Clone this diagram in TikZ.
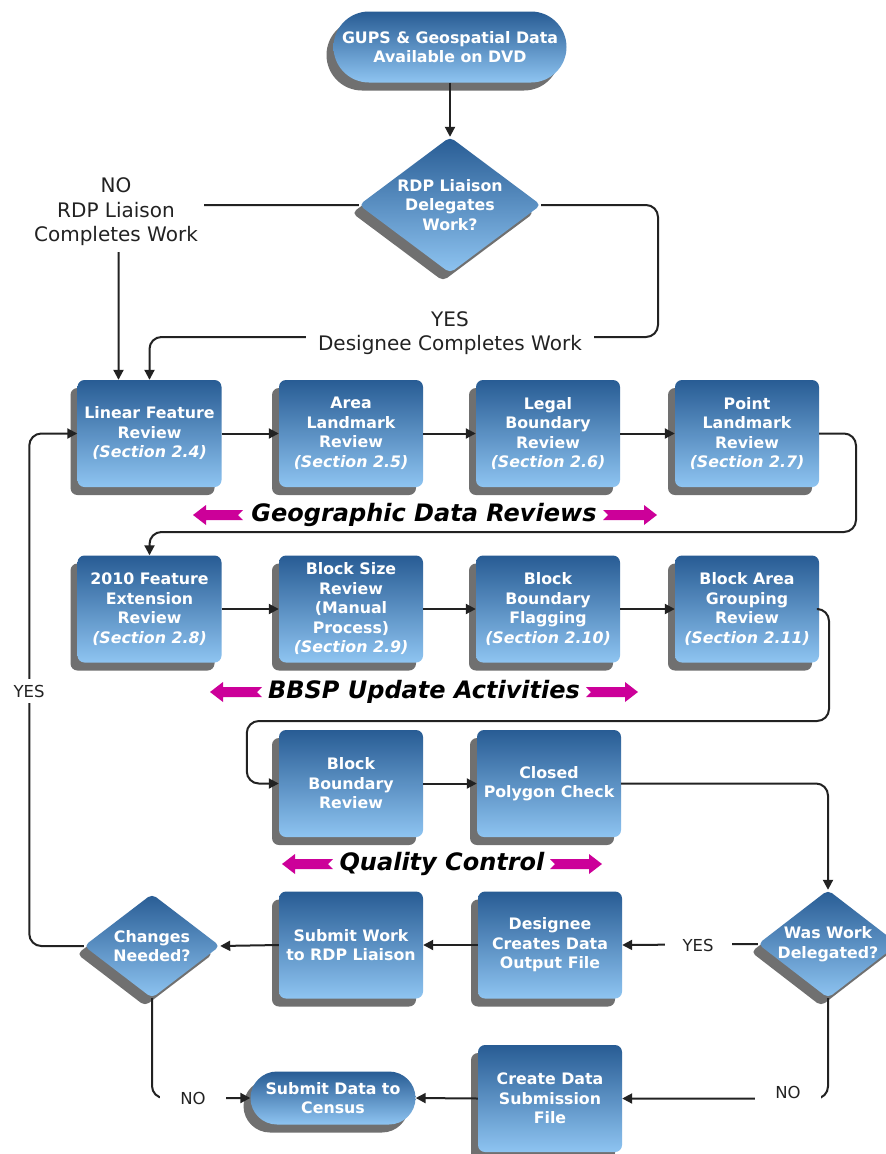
\documentclass[tikz,border=0pt]{standalone}
\usepackage{fontspec}
\setmainfont{DejaVu Sans}
\usetikzlibrary{shapes.geometric,shapes.misc,shadows,arrows.meta,calc}
\definecolor{boxtop}{RGB}{40,92,148}
\definecolor{boxbot}{RGB}{142,196,241}
\definecolor{shadowgray}{RGB}{112,112,112}
\definecolor{linec}{RGB}{34,34,34}
\definecolor{lblc}{RGB}{34,34,34}
\definecolor{pinkc}{RGB}{204,0,153}
\newcommand{\mysec}[1]{\textit{(Section #1)}}
\newcommand{\pinkleft}[3]{\fill[pinkc] (#1,#3) -- (#1+13,#3-10) -- (#1+13,#3-5) -- (#2,#3-5) -- (#2-5,#3) -- (#2,#3+5) -- (#1+13,#3+5) -- (#1+13,#3+10) -- cycle;}
\newcommand{\pinkright}[3]{\fill[pinkc] (#1,#3) -- (#1-13,#3-10) -- (#1-13,#3-5) -- (#2,#3-5) -- (#2+5,#3) -- (#2,#3+5) -- (#1-13,#3+5) -- (#1-13,#3+10) -- cycle;}
\begin{document}
\begin{tikzpicture}[x=1pt,y=-1pt,
  shd/.style={drop shadow={shadow xshift=-7pt,shadow yshift=-8pt,fill=shadowgray,opacity=1}},
  grad/.style={top color=boxtop,bottom color=boxbot,draw=none},
  boxfont/.style={font={\fontsize{15.8}{19.5}\selectfont\bfseries}},
  stepbox/.style={shd,grad,rectangle,rounded corners=7pt,minimum width=144pt,minimum height=107pt,inner sep=0pt,text=white,align=center,boxfont},
  term/.style={shd,grad,rounded rectangle,inner sep=0pt,text=white,align=center,boxfont},
  dec/.style={shd,grad,diamond,rounded corners=5pt,inner sep=0pt},
  dectext/.style={text=white,align=center,boxfont,inner sep=0pt},
  conn/.style={draw=linec,line width=2pt,rounded corners=12pt},
  arr/.style={conn,-{Triangle[length=10pt,width=10pt]}},
  biglbl/.style={text=lblc,font={\fontsize{20}{24.5}\selectfont},align=center,fill=white},
  smlbl/.style={text=lblc,font={\fontsize{16.5}{20}\selectfont},fill=white},
  grp/.style={text=black,font={\fontsize{24}{28}\selectfont\bfseries\itshape}}
]
\fill[white] (0,0) rectangle (886,1154);
\useasboundingbox (0,0) rectangle (886,1154);

% nodes
\node[term,minimum width=233pt,minimum height=71pt] (gups) at (450,47) {GUPS \& Geospatial Data\\Available on DVD};
\node[dec,minimum width=182pt,minimum height=136pt] (deleg) at (450,205) {};
\node[dectext] (delegt) at (deleg) {RDP Liaison\\Delegates\\Work?};

\node[stepbox] (lfr) at (149.5,433.5) {Linear Feature\\Review\\\mysec{2.4}};
\node[stepbox] (alr) at (351,433.5) {Area\\Landmark\\Review\\\mysec{2.5}};
\node[stepbox] (lbr) at (548,433.5) {Legal\\Boundary\\Review\\\mysec{2.6}};
\node[stepbox] (plr) at (747,433.5) {Point\\Landmark\\Review\\\mysec{2.7}};

\node[stepbox] (fer) at (149.5,609) {2010 Feature\\Extension\\Review\\\mysec{2.8}};
\node[stepbox] (bsr) at (351,609) {Block Size\\Review\\(Manual\\Process)\\\mysec{2.9}};
\node[stepbox] (bbf) at (548,609) {Block\\Boundary\\Flagging\\\mysec{2.10}};
\node[stepbox] (bag) at (747,609) {Block Area\\Grouping\\Review\\\mysec{2.11}};

\node[stepbox] (bbr) at (351,783.5) {Block\\Boundary\\Review};
\node[stepbox] (cpc) at (549,783.5) {Closed\\Polygon Check};

\node[dec,minimum width=136pt,minimum height=104pt] (chg) at (152,946) {};
\node[dectext] (chgt) at (chg) {Changes\\Needed?};
\node[stepbox] (swr) at (351,945) {Submit Work\\to RDP Liaison};
\node[stepbox] (dco) at (550,945) {Designee\\Creates Data\\Output File};
\node[dec,minimum width=140pt,minimum height=108pt] (wwd) at (828,944) {};
\node[dectext] (wwdt) at (wwd) {Was Work\\Delegated?};

\node[term,minimum width=165pt,minimum height=53pt] (sdc) at (333,1098) {Submit Data to\\Census};
\node[stepbox] (cds) at (550,1098.5) {Create Data\\Submission\\File};

% connectors
\draw[arr] (gups.south) -- (deleg.north);
\draw[arr] (deleg.west) -| ([xshift=-31pt]lfr.north);
\draw[arr] (deleg.east) -| (658,337) -| (lfr.north);
\draw[arr] (lfr.east) -- (alr.west);
\draw[arr] (alr.east) -- (lbr.west);
\draw[arr] (lbr.east) -- (plr.west);
\draw[arr] (plr.east) -| (856,532) -| (fer.north);
\draw[arr] (fer.east) -- (bsr.west);
\draw[arr] (bsr.east) -- (bbf.west);
\draw[arr] (bbf.east) -- (bag.west);
\draw[arr] (bag.east) -| (829,721) -| ([xshift=-32pt]bbr.west) -- (bbr.west);
\draw[arr] (bbr.east) -- (cpc.west);
\draw[arr] (cpc.east) -| (wwd.north);
\draw[arr] (wwd.west) -- (dco.east);
\draw[arr] (dco.west) -- (swr.east);
\draw[arr] (swr.west) -- (chg.east);
\draw[arr] (chg.west) -| ([xshift=-48pt]lfr.west) -- (lfr.west);
\draw[arr] (chg.south) |- (sdc.west);
\draw[arr] (wwd.south) |- (cds.east);
\draw[arr] (cds.west) -- (sdc.east);

% connector labels
\node[biglbl,inner xsep=6pt,inner ysep=6pt] (nolbl) at (116,212) {NO\\RDP Liaison\\Completes Work};
\node[biglbl,inner xsep=12pt,inner ysep=2pt] (yeslbl) at (450,333) {YES\\Designee Completes Work};
\node[smlbl,inner xsep=3pt,inner ysep=6pt] (yesleft) at (29,691) {YES};
\node[smlbl,minimum width=67pt,inner ysep=3pt] (yesmid) at (698,945) {YES};
\node[smlbl,minimum width=66pt,inner ysep=3pt] (noleft) at (193,1098) {NO};
\node[smlbl,minimum width=66pt,inner ysep=3pt] (noright) at (788,1092) {NO};

% group labels
\node[grp] (g1) at (424,515) {Geographic Data Reviews};
\pinkleft{193}{243}{515}
\pinkright{657}{603}{515}
\node[grp] (g2) at (424,692) {BBSP Update Activities};
\pinkleft{210}{262}{692}
\pinkright{638}{586}{692}
\node[grp] (g3) at (442,864) {Quality Control};
\pinkleft{282}{333}{864}
\pinkright{602}{550}{864}
\end{tikzpicture}
\end{document}
